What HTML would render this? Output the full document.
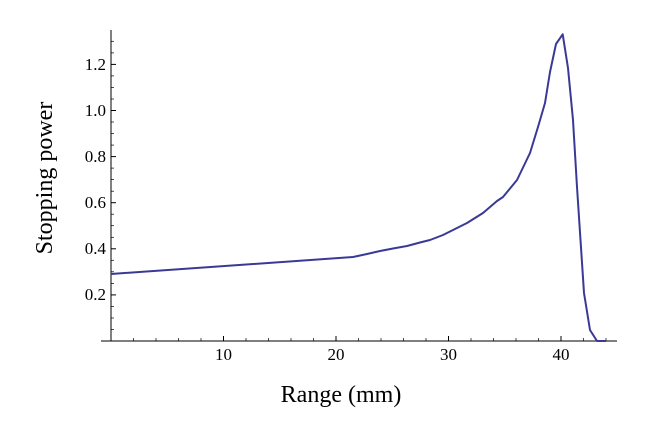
<!DOCTYPE html>
<html><head><style>body{margin:0;background:#fff}</style></head><body>
<svg width="652" height="422" xmlns="http://www.w3.org/2000/svg" font-family="Liberation Serif, serif">
<rect width="652" height="422" fill="#fff"/>
<g stroke="#000" stroke-width="1" fill="none">
<line x1="111" y1="30" x2="111" y2="341"/>
<line x1="101" y1="341" x2="617" y2="341"/>
<line x1="223.5" y1="341" x2="223.5" y2="336"/>
<line x1="336" y1="341" x2="336" y2="336"/>
<line x1="448.5" y1="341" x2="448.5" y2="336"/>
<line x1="561" y1="341" x2="561" y2="336"/>
<g stroke-width="0.7">
<line x1="133.5" y1="341" x2="133.5" y2="338"/><line x1="156" y1="341" x2="156" y2="338"/><line x1="178.5" y1="341" x2="178.5" y2="338"/><line x1="201" y1="341" x2="201" y2="338"/>
<line x1="246" y1="341" x2="246" y2="338"/><line x1="268.5" y1="341" x2="268.5" y2="338"/><line x1="291" y1="341" x2="291" y2="338"/><line x1="313.5" y1="341" x2="313.5" y2="338"/>
<line x1="358.5" y1="341" x2="358.5" y2="338"/><line x1="381" y1="341" x2="381" y2="338"/><line x1="403.5" y1="341" x2="403.5" y2="338"/><line x1="426" y1="341" x2="426" y2="338"/>
<line x1="471" y1="341" x2="471" y2="338"/><line x1="493.5" y1="341" x2="493.5" y2="338"/><line x1="516" y1="341" x2="516" y2="338"/><line x1="538.5" y1="341" x2="538.5" y2="338"/>
<line x1="583.5" y1="341" x2="583.5" y2="338"/><line x1="606" y1="341" x2="606" y2="338"/>
</g>
<line x1="111" y1="294.9" x2="116" y2="294.9"/><line x1="111" y1="248.8" x2="116" y2="248.8"/><line x1="111" y1="202.7" x2="116" y2="202.7"/><line x1="111" y1="156.6" x2="116" y2="156.6"/><line x1="111" y1="110.5" x2="116" y2="110.5"/><line x1="111" y1="64.4" x2="116" y2="64.4"/>
<g stroke-width="0.7">
<line x1="111" y1="329.5" x2="114" y2="329.5"/><line x1="111" y1="318" x2="114" y2="318"/><line x1="111" y1="306.4" x2="114" y2="306.4"/>
<line x1="111" y1="283.4" x2="114" y2="283.4"/><line x1="111" y1="271.8" x2="114" y2="271.8"/><line x1="111" y1="260.3" x2="114" y2="260.3"/>
<line x1="111" y1="237.3" x2="114" y2="237.3"/><line x1="111" y1="225.7" x2="114" y2="225.7"/><line x1="111" y1="214.2" x2="114" y2="214.2"/>
<line x1="111" y1="191.2" x2="114" y2="191.2"/><line x1="111" y1="179.6" x2="114" y2="179.6"/><line x1="111" y1="168.1" x2="114" y2="168.1"/>
<line x1="111" y1="145.1" x2="114" y2="145.1"/><line x1="111" y1="133.5" x2="114" y2="133.5"/><line x1="111" y1="122" x2="114" y2="122"/>
<line x1="111" y1="99" x2="114" y2="99"/><line x1="111" y1="87.4" x2="114" y2="87.4"/><line x1="111" y1="75.9" x2="114" y2="75.9"/>
<line x1="111" y1="52.9" x2="114" y2="52.9"/><line x1="111" y1="41.3" x2="114" y2="41.3"/>
</g>
</g>
<g font-size="17" fill="#000" text-anchor="end">
<text x="106" y="300">0.2</text><text x="106" y="254">0.4</text><text x="106" y="208">0.6</text><text x="106" y="162">0.8</text><text x="106" y="116">1.0</text><text x="106" y="70">1.2</text>
</g>
<g font-size="17" fill="#000" text-anchor="middle">
<text x="223.5" y="360">10</text><text x="336" y="360">20</text><text x="448.5" y="360">30</text><text x="561" y="360">40</text>
</g>
<text x="341" y="402" font-size="24" text-anchor="middle">Range (mm)</text>
<text transform="translate(52,178) rotate(-90)" font-size="24" text-anchor="middle">Stopping power</text>
<polyline fill="none" stroke="#3a3a96" stroke-width="2" stroke-linejoin="round"
points="111,274 353,257 367,254 380,251 393,248.5 407,246 420,242.5 430,240 443,235 455,229 467,223 483,213 497,201 503,197 517,180 530,153 538,127 545,103 550,72 556,44 562.7,34.3 568,68 573,120 577,187 584,293 590,330 597,341 606,341"/>
</svg>
</body></html>
